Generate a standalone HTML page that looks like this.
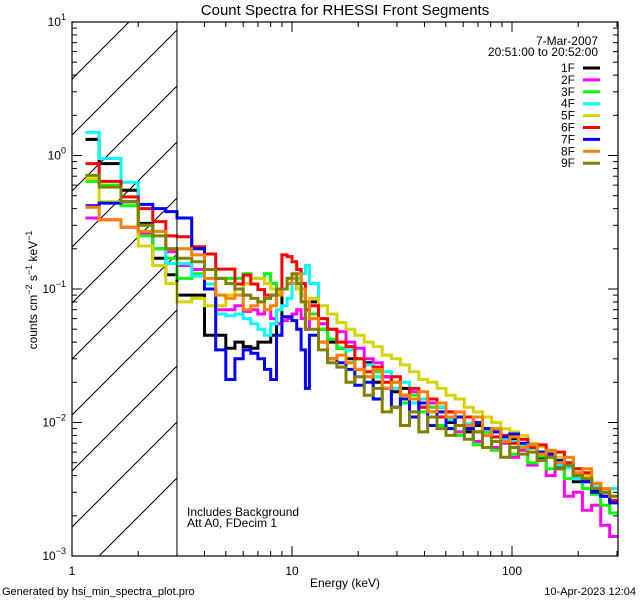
<!DOCTYPE html>
<html><head><meta charset="utf-8"><style>
html,body{margin:0;padding:0;background:#fff;width:640px;height:600px;overflow:hidden;}
svg{display:block;font-family:"Liberation Sans",sans-serif;}
</style></head><body>
<svg id="chart" width="640" height="600" viewBox="0 0 640 600">
<defs><clipPath id="pc"><rect x="72" y="22" width="546" height="534"/></clipPath>
<clipPath id="hc"><rect x="72" y="22" width="105" height="534"/></clipPath></defs>
<rect width="640" height="600" fill="#fff"/>
<g id="hatch" clip-path="url(#hc)"></g>
<g id="series" clip-path="url(#pc)"></g>
<g id="axes"></g>
<text x="345" y="15" text-anchor="middle" font-size="15">Count Spectra for RHESSI Front Segments</text>
<text x="598" y="45" text-anchor="end" font-size="12">7-Mar-2007</text>
<text x="598" y="56" text-anchor="end" font-size="12">20:51:00 to 20:52:00</text>
<g id="legend"></g>
<text x="187" y="516" font-size="12">Includes Background</text>
<text x="187" y="527" font-size="12">Att A0, FDecim 1</text>
<text x="345" y="587" text-anchor="middle" font-size="12">Energy (keV)</text>
<text transform="translate(37,290) rotate(-90)" text-anchor="middle" font-size="12">counts cm<tspan dy="-5" font-size="9">−2</tspan><tspan dy="5"> s</tspan><tspan dy="-5" font-size="9">−1</tspan><tspan dy="5"> keV</tspan><tspan dy="-5" font-size="9">−1</tspan></text>
<text x="2" y="595" font-size="11">Generated by hsi_min_spectra_plot.pro</text>
<text x="636" y="595" text-anchor="end" font-size="11">10-Apr-2023 12:04</text>
</svg>
<script>
const energyEdges=[1.17,1.33,1.67,2,2.33,2.67,3,3.5,4,4.5,5,5.5,6,6.5,7,7.5,8,8.5,9,9.5,10,10.5,11,11.5,12,13.2,14.5,16,17.6,19.3,21.3,23.4,25.7,28.3,31.1,34.2,37.7,41.4,45.6,50.1,55.1,60.7,66.7,73.4,80.8,88.8,97.7,107,118,130,143,157,173,190,209,230,253,278,300];
const seriesNames=["1F","2F","3F","4F","5F","6F","7F","8F","9F"];
const seriesColors=["#000000","#ff00ff","#00ff00","#00ffff","#d4d400","#ff0000","#0000ff","#ff8000","#808000"];
const s1F=[1.32,0.87,0.55,0.31,0.17,0.128, 0.09,0.09,0.045,0.045,0.036,0.04,0.037,0.036,0.04,0.04,0.045,0.055,0.1,0.11,0.12,0.1,0.09,0.07, 0.08,0.05,0.04,0.036,0.03,0.025,0.028,0.02,0.022,0.017,0.018,0.014,0.015,0.012,0.013,0.010,0.011,0.0085,0.0095,0.008,0.0085,0.0072,0.0075,0.0065,0.0068,0.0055,0.0058,0.0046,0.0047,0.0036,0.0037,0.0031,0.0028,0.0026];
const s2F=[0.34,0.33,0.29,0.26,0.2,0.19, 0.15,0.14,0.1,0.07,0.07,0.075,0.068,0.07,0.065,0.07,0.06,0.055,0.058,0.06,0.065,0.07,0.06,0.05, 0.06,0.055,0.05,0.048,0.04,0.036,0.03,0.028,0.022,0.02,0.016,0.017,0.013,0.014,0.011,0.012,0.0085,0.009,0.0072,0.0085,0.0065,0.007,0.0055,0.0062,0.0048,0.0052,0.004,0.0045,0.0028,0.003,0.0022,0.0024,0.0017,0.0014];
const s3F=[0.64,0.6,0.42,0.25,0.2,0.17, 0.12,0.13,0.14,0.12,0.12,0.12,0.13,0.12,0.12,0.13,0.11,0.1,0.1,0.11,0.12,0.11,0.1,0.08, 0.065,0.05,0.042,0.036,0.028,0.03,0.022,0.024,0.018,0.02,0.014,0.016,0.012,0.013,0.0095,0.011,0.008,0.0095,0.0068,0.0085,0.0062,0.0072,0.0058,0.0065,0.005,0.0056,0.0045,0.005,0.0038,0.004,0.0032,0.0029,0.0024,0.0021];
const s4F=[1.49,0.95,0.63,0.30,0.27,0.155, 0.155,0.125,0.109,0.065,0.063,0.065,0.06,0.055,0.05,0.045,0.055,0.07,0.075,0.085,0.11,0.12,0.13,0.15, 0.11,0.06,0.05,0.04,0.035,0.03,0.027,0.022,0.024,0.018,0.02,0.014,0.015,0.012,0.013,0.0105,0.0095,0.0098,0.0085,0.0088,0.0078,0.0075,0.0072,0.0068,0.0064,0.006,0.0055,0.0048,0.0046,0.0038,0.0036,0.0033,0.003,0.0032];
const s5F=[0.67,0.45,0.45,0.21,0.15,0.11, 0.08,0.085,0.075,0.075,0.09,0.1,0.11,0.12,0.12,0.11,0.1,0.095,0.1,0.11,0.12,0.1,0.09,0.08, 0.085,0.075,0.065,0.056,0.05,0.045,0.04,0.037,0.032,0.03,0.027,0.024,0.021,0.02,0.018,0.016,0.015,0.013,0.012,0.011,0.01,0.009,0.0085,0.008,0.007,0.0066,0.006,0.0055,0.005,0.0045,0.004,0.0035,0.003,0.0028];
const s6F=[0.87,0.64,0.49,0.4,0.32,0.25, 0.246,0.207,0.183,0.141,0.141,0.109,0.127,0.109,0.099,0.09,0.09,0.1,0.18,0.175,0.16,0.14,0.11,0.07, 0.075,0.06,0.05,0.04,0.037,0.03,0.024,0.026,0.02,0.022,0.016,0.018,0.013,0.015,0.011,0.012,0.0095,0.011,0.0085,0.009,0.0078,0.008,0.007,0.0075,0.0065,0.0068,0.0058,0.006,0.005,0.0045,0.0042,0.0035,0.003,0.0026];
const s7F=[0.42,0.44,0.45,0.43,0.40,0.38, 0.34,0.2,0.1,0.035,0.021,0.03,0.035,0.033,0.03,0.025,0.021,0.045,0.062,0.062,0.058,0.05,0.035,0.018, 0.045,0.04,0.03,0.028,0.025,0.019,0.02,0.015,0.018,0.013,0.015,0.011,0.014,0.0095,0.012,0.009,0.011,0.009,0.01,0.009,0.0085,0.0078,0.0082,0.007,0.0068,0.006,0.0058,0.0052,0.0048,0.004,0.0036,0.003,0.0028,0.0025];
const s8F=[0.41,0.33,0.29,0.27,0.27,0.2, 0.2,0.18,0.12,0.09,0.085,0.09,0.07,0.075,0.08,0.07,0.075,0.09,0.1,0.11,0.12,0.13,0.1,0.08, 0.06,0.04,0.03,0.032,0.028,0.025,0.022,0.025,0.018,0.02,0.016,0.015,0.017,0.012,0.014,0.011,0.012,0.0095,0.011,0.008,0.009,0.0072,0.0078,0.0065,0.0068,0.0058,0.0062,0.005,0.0055,0.0042,0.0045,0.0035,0.0032,0.0028];
const s9F=[0.71,0.58,0.45,0.30,0.25,0.2, 0.17,0.16,0.14,0.12,0.11,0.1,0.09,0.085,0.08,0.085,0.09,0.1,0.1,0.12,0.13,0.11,0.08,0.05, 0.05,0.035,0.028,0.026,0.02,0.022,0.016,0.018,0.012,0.013,0.0095,0.012,0.0085,0.011,0.009,0.008,0.0095,0.0075,0.0085,0.0065,0.0072,0.0055,0.0065,0.0058,0.006,0.0052,0.0055,0.0045,0.0048,0.004,0.0038,0.0032,0.003,0.0028];
const seriesData=[s1F,s2F,s3F,s4F,s5F,s6F,s7F,s8F,s9F];
const xMajorTicks=[1,10,100];
const xTickLabels=["1","10","100"];
const yMajorExps=[1,0,-1,-2,-3];

const NS="http://www.w3.org/2000/svg";
const X0=72,X1=618,Y0=22,Y1=556,XDEC=220,YDEC=133.5;
function xs(e){return X0+Math.log10(e)*XDEC;}
function ys(v){return Y0+(1-Math.log10(v))*YDEC;}
function mk(tag,attrs,parent){const el=document.createElementNS(NS,tag);for(const k in attrs)el.setAttribute(k,attrs[k]);parent.appendChild(el);return el;}

const hatch=document.getElementById('hatch');
for(let c=655;c>0;c-=56){
  const ln=mk('line',{x1:c-700,y1:700,x2:c+100,y2:-100,stroke:'#000','stroke-width':1},hatch);
  
  
}
const axg=document.getElementById('axes');
const hx=xs(3);
const bl=mk('line',{x1:hx,y1:Y0,x2:hx,y2:Y1,stroke:'#000','stroke-width':1},axg);



const sg=document.getElementById('series');
seriesData.forEach((vals,i)=>{
  let d='M'+xs(energyEdges[0]).toFixed(1)+' '+ys(vals[0]).toFixed(1);
  for(let j=0;j<vals.length;j++){
    if(j>0)d+=' V'+ys(vals[j]).toFixed(1);
    d+=' H'+xs(energyEdges[j+1]).toFixed(1);
  }
  const p=mk('path',{d:d,fill:'none',stroke:seriesColors[i],'stroke-width':3,'stroke-linejoin':'miter','stroke-linecap':'square'},sg);
  
  
});

const ax=axg;
const frame=mk('rect',{x:X0,y:Y0,width:X1-X0,height:Y1-Y0,fill:'none',stroke:'#000','stroke-width':1.2},ax);


for(let dec=0;dec<3;dec++){
  for(let m=1;m<10;m++){
    const e=m*Math.pow(10,dec);
    if(e>300)break;
    const x=xs(e),L=(m===1)?10:5;
    const t1=mk('line',{x1:x,y1:Y1,x2:x,y2:Y1-L,stroke:'#000','stroke-width':1},ax);
    
    
    const t2=mk('line',{x1:x,y1:Y0,x2:x,y2:Y0+L,stroke:'#000','stroke-width':1},ax);
    
    
  }
}
xMajorTicks.forEach((e,i)=>{
  const t=mk('text',{x:xs(e),y:575,'text-anchor':'middle','font-size':12},ax);
  t.textContent=xTickLabels[i];
  
  
});
for(let ex=-3;ex<1;ex++){
  for(let m=1;m<10;m++){
    const v=m*Math.pow(10,ex),y=ys(v),L=(m===1)?10:5;
    const t1=mk('line',{x1:X0,y1:y,x2:X0+L,y2:y,stroke:'#000','stroke-width':1},ax);
    
    
    const t2=mk('line',{x1:X1,y1:y,x2:X1-L,y2:y,stroke:'#000','stroke-width':1},ax);
    
    
  }
}
yMajorExps.forEach(ex=>{
  const y=ys(Math.pow(10,ex));
  const t=mk('text',{x:66,y:y+4,'text-anchor':'end','font-size':12},ax);
  
  
  const base=document.createElementNS(NS,'tspan');base.textContent='10';t.appendChild(base);
  const sup=document.createElementNS(NS,'tspan');sup.setAttribute('dy','-6');sup.setAttribute('font-size','9');
  sup.textContent=(ex<0?'−':'')+Math.abs(ex);t.appendChild(sup);
});

const lg=document.getElementById('legend');
seriesNames.forEach((n,i)=>{
  const y=68+i*11.9;
  const t=mk('text',{x:575,y:y+4,'text-anchor':'end','font-size':12},lg);
  t.textContent=n;
  
  
  const l=mk('line',{x1:583,y1:y,x2:600,y2:y,stroke:seriesColors[i],'stroke-width':3},lg);
  
  
});
</script>
</body></html>
